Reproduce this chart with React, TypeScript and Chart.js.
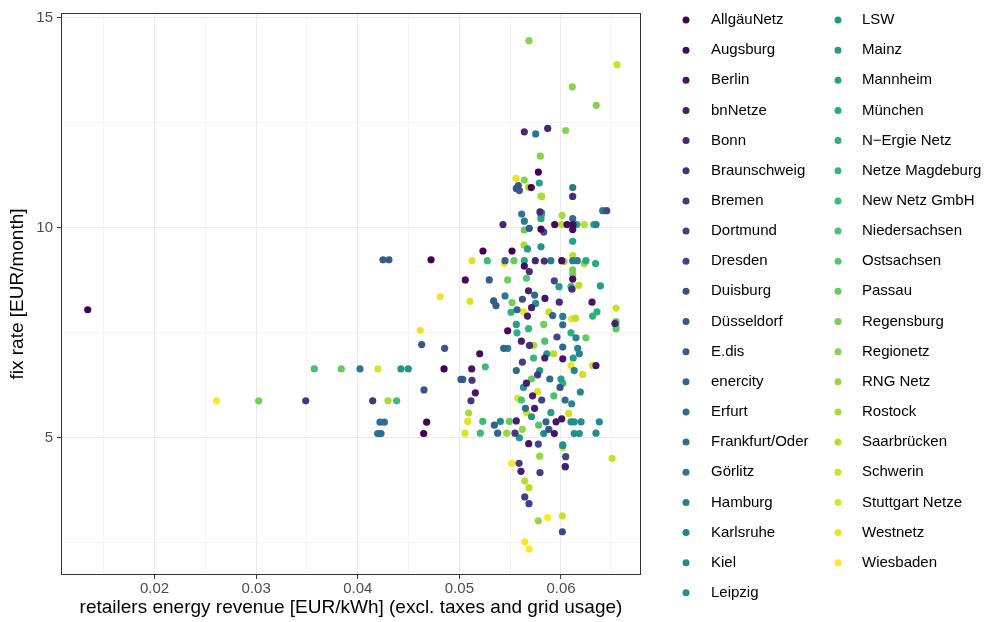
import React, { useEffect, useRef } from "react";
import { Chart, registerables } from "chart.js";

Chart.register(...registerables);

// ---------------- DATA ----------------
const seriesNames = [
  "AllgäuNetz", "Augsburg", "Berlin", "bnNetze", "Bonn", "Braunschweig", "Bremen", "Dortmund",
  "Dresden", "Duisburg", "Düsseldorf", "E.dis", "enercity", "Erfurt", "Frankfurt/Oder", "Görlitz",
  "Hamburg", "Karlsruhe", "Kiel", "Leipzig", "LSW", "Mainz", "Mannheim", "München", "N\u2212Ergie Netz",
  "Netze Magdeburg", "New Netz GmbH", "Niedersachsen", "Ostsachsen", "Passau", "Regensburg",
  "Regionetz", "RNG Netz", "Rostock", "Saarbrücken", "Schwerin", "Stuttgart Netze", "Westnetz", "Wiesbaden",
];

const allgaeuNetz = [[0.01343, 8.05], [0.04849, 6.64], [0.04678, 5.37], [0.04649, 5.10], [0.04721, 9.24], [0.05777, 11.33], [0.05708, 10.96], [0.05803, 9.97], [0.05232, 9.45], [0.05518, 9.45]];
const augsburg = [[0.05639, 9.09], [0.05058, 8.76], [0.05938, 10.08], [0.06059, 10.08], [0.06118, 10.08], [0.06115, 9.96], [0.06007, 9.22], [0.06115, 8.78], [0.05475, 7.55], [0.0520, 7.0]];
const berlin = [[0.05121, 6.64], [0.05157, 6.07], [0.06305, 8.23], [0.05842, 8.32], [0.06017, 6.88], [0.06344, 6.72], [0.05951, 5.38], [0.06007, 5.45], [0.05934, 5.1], [0.05682, 4.86]];
const bnNetze = [[0.05606, 4.2], [0.06042, 4.31], [0.06531, 7.72], [0.0567, 7.9], [0.0571, 8.1], [0.0566, 6.3], [0.0572, 6.0], [0.0556, 5.4], [0.0574, 5.7], [0.0584, 6.9], [0.0568, 8.5], [0.0561, 7.3]];
const bonn = [[0.05639, 12.29], [0.05869, 12.37], [0.05793, 10.38], [0.05429, 10.08], [0.05747, 9.22]];
const braunschweig = [[0.05688, 8.96], [0.05835, 9.21], [0.06115, 10.75], [0.06108, 8.54], [0.05983, 8.23], [0.0569, 7.2]];
const bremen = [[0.03488, 5.88], [0.04147, 5.88], [0.05124, 6.37], [0.05114, 5.88], [0.05547, 5.11], [0.0577, 6.5]];
const dortmund = [[0.05587, 4.39], [0.05793, 4.17], [0.05643, 3.59], [0.05685, 3.43], [0.0581, 5.9], [0.0562, 6.8]];
const dresden = [[0.06013, 2.76], [0.05777, 4.85], [0.06046, 4.55], [0.0645, 10.41], [0.05934, 8.74], [0.0596, 7.4]];
const duisburg = [[0.0588, 5.2], [0.0583, 9.9], [0.0562, 8.3], [0.0599, 6.2]];
const duesseldorf = [[0.04629, 7.22], [0.04855, 7.13], [0.04652, 6.14], [0.05016, 6.39], [0.0558, 11.01], [0.0556, 10.94], [0.0559, 10.89]];
const edis = [[0.04248, 9.24], [0.04307, 9.24], [0.05688, 9.99], [0.05449, 9.22], [0.05294, 8.76], [0.05337, 8.26], [0.0536, 8.15]];
const enercity = [[0.05567, 8.05], [0.05436, 7.13], [0.05033, 6.39], [0.05344, 5.3], [0.05377, 5.11], [0.05852, 5.38], [0.05918, 7.91]];
const erfurt = [[0.06017, 7.69], [0.06017, 7.16], [0.06115, 10.22], [0.0574, 8.4], [0.0556, 6.6], [0.0589, 6.4]];
const frankfurtOder = [[0.04219, 5.37], [0.04262, 5.37], [0.04196, 5.10], [0.04229, 5.10], [0.0565, 5.7], [0.0604, 5.9]];
const goerlitz = [[0.04022, 6.64], [0.05751, 12.24], [0.06115, 10.96], [0.05613, 10.33], [0.05639, 10.16], [0.0641, 10.41]];
const hamburg = [[0.059, 9.22], [0.06115, 9.22], [0.0616, 9.22], [0.06345, 10.08], [0.05449, 8.38], [0.06017, 7.89], [0.05475, 7.13]];
const karlsruhe = [[0.06147, 7.38], [0.06164, 7.13], [0.0618, 7.0], [0.0613, 6.6], [0.0619, 6.09], [0.06105, 5.81]];
const kiel = [[0.06377, 5.38], [0.06344, 5.11], [0.06197, 5.38], [0.06098, 5.38], [0.0613, 5.38], [0.0583, 5.1], [0.05403, 5.39]];
const leipzig = [[0.0613, 5.1], [0.0618, 5.1], [0.06017, 4.81], [0.06017, 4.83], [0.05803, 9.55], [0.0575, 8.2], [0.0563, 6.2]];
const lsw = [[0.04425, 6.64], [0.04497, 6.64], [0.0571, 5.5], [0.0586, 7.0], [0.0559, 5.0], [0.0579, 6.6]];
const mainz = [[0.06387, 8.62], [0.0567, 9.5], [0.06, 6.4], [0.0612, 6.9], [0.0598, 8.6], [0.0556, 7.7], [0.059, 5.6]];
const mannheim = [[0.05786, 11.07], [0.05803, 10.3], [0.05803, 10.22], [0.0581, 10.36], [0.06115, 9.68]];
const muenchen = [[0.05639, 9.22], [0.06156, 10.08], [0.06322, 10.08], [0.06245, 9.22], [0.0634, 9.15]];
const nErgieNetz = [[0.05508, 7.99], [0.05567, 7.5], [0.06354, 8.0], [0.06311, 7.9], [0.06098, 7.5]];
const netzeMagdeburg = [[0.06098, 8.6], [0.06042, 4.31], [0.06017, 6.3], [0.0568, 7.6], [0.0573, 6.9]];
const newNetz = [[0.04383, 5.88], [0.05275, 9.22], [0.05255, 6.69], [0.0523, 5.39], [0.05206, 5.11]];
const niedersachsen = [[0.03572, 6.64], [0.0561, 5.9], [0.0584, 7.3], [0.0593, 6.0]];
const ostsachsen = [[0.06541, 7.77], [0.06541, 7.69], [0.06541, 7.6], [0.0566, 8.8], [0.0578, 5.3]];
const passau = [[0.03838, 6.64], [0.05639, 9.95], [0.05537, 9.22], [0.06245, 7.38], [0.0571, 6.4], [0.05491, 5.39]];
const regensburg = [[0.03025, 5.88], [0.05475, 8.76], [0.05518, 8.22], [0.06115, 9.0], [0.06115, 8.9], [0.0583, 7.7]];
const regionetz = [[0.05685, 14.46], [0.06111, 13.36], [0.06347, 12.92], [0.06046, 12.32], [0.05796, 11.71], [0.05639, 11.14]];
const rngNetz = [[0.0603, 9.2], [0.0579, 4.56], [0.05777, 3.02], [0.05466, 5.11], [0.06229, 9.15], [0.0562, 5.2]];
const rostock = [[0.04298, 5.88], [0.05682, 10.97], [0.05803, 10.76], [0.05636, 9.59], [0.0581, 10.75], [0.0601, 10.3], [0.05091, 5.59], [0.0573, 7.2]];
const saarbruecken = [[0.06007, 10.08], [0.06229, 10.08], [0.06115, 9.34], [0.06175, 8.63], [0.06143, 7.85], [0.05928, 7.0], [0.05643, 3.97], [0.05685, 3.81]];
const schwerin = [[0.06551, 13.89], [0.06541, 8.09], [0.06311, 6.72], [0.06213, 6.51], [0.06076, 5.58], [0.06502, 4.51], [0.06013, 3.14], [0.0566, 5.6], [0.0588, 8.0]];
const stuttgartNetze = [[0.04199, 6.64], [0.05124, 9.22], [0.05104, 8.25], [0.05081, 5.39], [0.05055, 5.11], [0.05574, 5.94], [0.0577, 6.1]];
const westnetz = [[0.04615, 7.56], [0.04812, 8.36], [0.05557, 11.18], [0.06105, 7.83], [0.06098, 6.72], [0.06017, 4.76], [0.0563, 8.0]];
const wiesbaden = [[0.02612, 5.88], [0.05515, 4.39], [0.05869, 3.1], [0.05643, 2.52], [0.05685, 2.35], [0.05835, 9.21], [0.0544, 9.15]];

const seriesValues = [
  allgaeuNetz, augsburg, berlin, bnNetze, bonn, braunschweig, bremen, dortmund, dresden, duisburg,
  duesseldorf, edis, enercity, erfurt, frankfurtOder, goerlitz, hamburg, karlsruhe, kiel, leipzig,
  lsw, mainz, mannheim, muenchen, nErgieNetz, netzeMagdeburg, newNetz, niedersachsen, ostsachsen,
  passau, regensburg, regionetz, rngNetz, rostock, saarbruecken, schwerin, stuttgartNetze, westnetz, wiesbaden,
];

const xTickValues = [0.015, 0.02, 0.025, 0.03, 0.035, 0.04, 0.045, 0.05, 0.055, 0.06, 0.065];
const xMajorLabels = ["0.02", "0.03", "0.04", "0.05", "0.06"];
const yTickValues = [2.5, 5, 7.5, 10, 12.5, 15];
const yMajorLabels = ["5", "10", "15"];

const xTitle = "retailers energy revenue [EUR/kWh] (excl. taxes and grid usage)";
const yTitle = "fix rate [EUR/month]";

// ---------------- STYLE ----------------
const FONT = "'Liberation Sans', Arial, Helvetica, sans-serif";
const viridisAnchors = ["#440154", "#482475", "#414487", "#355F8D", "#2A788E", "#21918C", "#22A884", "#44BF70", "#7AD151", "#BDDF26", "#FDE725"];

function hexToRgb(h: string) {
  return [parseInt(h.slice(1, 3), 16), parseInt(h.slice(3, 5), 16), parseInt(h.slice(5, 7), 16)];
}
function viridis(t: number) {
  const p = t * (viridisAnchors.length - 1);
  const i = Math.min(Math.floor(p), viridisAnchors.length - 2);
  const f = p - i;
  const a = hexToRgb(viridisAnchors[i]);
  const b = hexToRgb(viridisAnchors[i + 1]);
  const c = a.map((v, k) => Math.round(v + (b[k] - v) * f));
  return `rgb(${c[0]},${c[1]},${c[2]})`;
}

const colors = seriesNames.map((_, i) => viridis(i / (seriesNames.length - 1)));

const isMajorX = (v: number) => Math.abs(v * 100 - Math.round(v * 100)) < 1e-6;
const isMajorY = (v: number) => Math.abs(v / 5 - Math.round(v / 5)) < 1e-6;

const panelAndLegend = {
  id: "panelAndLegend",
  afterDatasetsDraw(chart: any) {
    const { ctx, chartArea } = chart;
    ctx.save();
    ctx.strokeStyle = "#333333";
    ctx.lineWidth = 1;
    ctx.strokeRect(
      Math.round(chartArea.left) + 0.5,
      Math.round(chartArea.top) + 0.5,
      Math.round(chartArea.right - chartArea.left) - 1,
      Math.round(chartArea.bottom - chartArea.top) - 1
    );
    ctx.restore();
  },
  afterDraw(chart: any) {
    const ctx = chart.ctx;
    ctx.save();
    ctx.font = `15px ${FONT}`;
    ctx.textBaseline = "middle";
    ctx.textAlign = "left";
    seriesNames.forEach((name, i) => {
      const col = i < 20 ? 0 : 1;
      const row = col === 0 ? i : i - 20;
      const y = 20 + row * 30.15;
      const dotX = col === 0 ? 686 : 838;
      const textX = col === 0 ? 711 : 862;
      ctx.fillStyle = colors[i];
      ctx.beginPath();
      ctx.arc(dotX, y, 3.5, 0, Math.PI * 2);
      ctx.fill();
      ctx.fillStyle = "#000000";
      ctx.fillText(name, textX, y);
    });
    ctx.restore();
  },
};

export default function App() {
  const canvasRef = useRef<HTMLCanvasElement | null>(null);

  useEffect(() => {
    if (!canvasRef.current) return;
    const datasets = seriesValues.map((vals, i) => ({
      label: seriesNames[i],
      data: vals.map(([x, y]) => ({ x, y })),
      backgroundColor: colors[i],
      borderWidth: 0,
      pointRadius: 3.6,
      pointHoverRadius: 3.6,
    }));
    const chart = new Chart(canvasRef.current, {
      type: "scatter",
      data: { datasets },
      plugins: [panelAndLegend],
      options: {
        animation: false,
        responsive: false,
        devicePixelRatio: 1,
        events: [],
        layout: { padding: { left: 0, top: 10, right: 348, bottom: 0 } },
        plugins: { legend: { display: false }, tooltip: { enabled: false } },
        scales: {
          x: {
            type: "linear",
            min: 0.0108,
            max: 0.06787,
            afterBuildTicks: (scale: any) => {
              scale.ticks = xTickValues.map((v) => ({ value: v }));
            },
            afterFit: (scale: any) => {
              scale.height = 47;
            },
            border: { display: false },
            grid: {
              color: () => "#EBEBEB",
              lineWidth: (c: any) => (c.tick && isMajorX(c.tick.value) ? 1.1 : 0.55),
              tickColor: (c: any) => (c.tick && isMajorX(c.tick.value) ? "#333333" : "rgba(0,0,0,0)"),
              tickLength: 4,
              tickWidth: 1,
              drawTicks: true,
            },
            ticks: {
              autoSkip: false,
              maxRotation: 0,
              padding: 1,
              color: "#4D4D4D",
              font: { family: FONT, size: 15 },
              callback: (v: any) => {
                const idx = xMajorLabels.findIndex((l) => Math.abs(parseFloat(l) - v) < 1e-9);
                return idx >= 0 ? xMajorLabels[idx] : "";
              },
            },
            title: {
              display: true,
              text: xTitle,
              color: "#000000",
              font: { family: FONT, size: 19 },
              padding: { top: 0, bottom: 2.5 },
            },
          },
          y: {
            type: "linear",
            min: 1.73,
            max: 15.12,
            afterBuildTicks: (scale: any) => {
              scale.ticks = yTickValues.map((v) => ({ value: v }));
            },
            afterFit: (scale: any) => {
              scale.width = 61;
            },
            border: { display: false },
            grid: {
              color: () => "#EBEBEB",
              lineWidth: (c: any) => (c.tick && isMajorY(c.tick.value) ? 1.1 : 0.55),
              tickColor: (c: any) => (c.tick && isMajorY(c.tick.value) ? "#333333" : "rgba(0,0,0,0)"),
              tickLength: 4,
              tickWidth: 1,
              drawTicks: true,
            },
            ticks: {
              autoSkip: false,
              padding: 4,
              color: "#4D4D4D",
              font: { family: FONT, size: 15 },
              callback: (v: any) => {
                const idx = yMajorLabels.findIndex((l) => Math.abs(parseFloat(l) - v) < 1e-9);
                return idx >= 0 ? yMajorLabels[idx] : "";
              },
            },
            title: {
              display: true,
              text: yTitle,
              color: "#000000",
              font: { family: FONT, size: 19 },
              padding: { top: 6.5, bottom: 0 },
            },
          },
        },
      } as any,
    });
    return () => chart.destroy();
  }, []);

  return (
    <div style={{ position: "absolute", left: 0, top: 0, width: 989, height: 622, background: "#ffffff" }}>
      <canvas ref={canvasRef} width={989} height={622} style={{ width: 989, height: 622, display: "block" }} />
    </div>
  );
}
